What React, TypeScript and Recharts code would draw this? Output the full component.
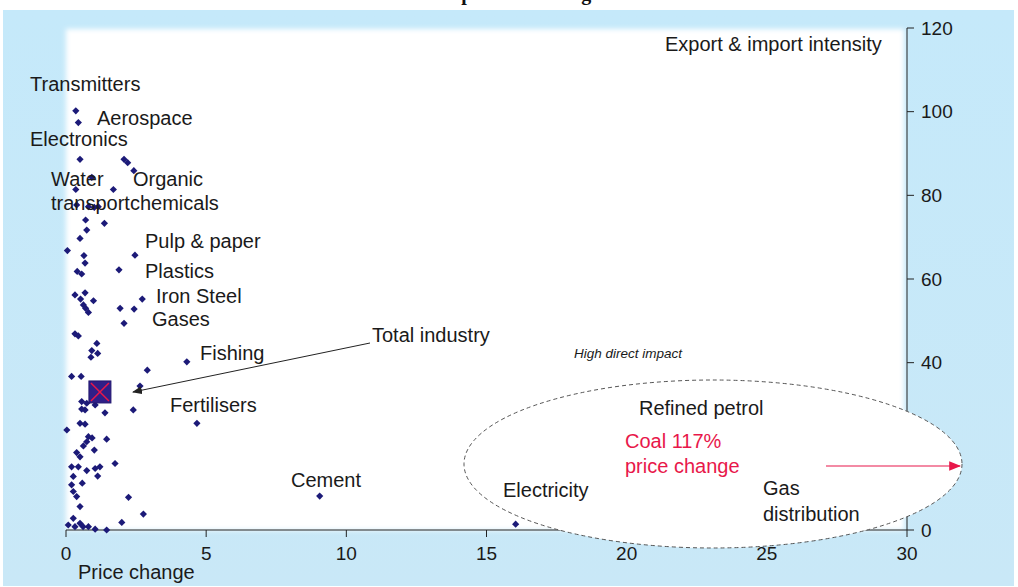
import { Scatter, ScatterChart, XAxis, YAxis } from "recharts";

// sectors: price change (%) vs export & import intensity (%)
const priceChange = [
  0.35, 0.44, 0.5, 2.07, 2.2, 2.42, 0.92, 0.35, 1.69, 0.38, 0.8, 1.01, 1.15, 0.7, 1.37, 0.74, 0.5,
  0.05, 0.64, 0.68, 0.4, 0.56, 2.46, 1.89, 0.32, 0.68, 0.52, 0.98, 0.62, 0.7, 0.8, 2.72, 1.93, 2.43,
  2.07, 0.32, 0.44, 1.1, 0.92, 1.13, 0.89, 2.9, 0.2, 0.54, 2.64, 0.56, 0.68, 1.04, 1.39, 2.4, 0.03,
  0.5, 0.68, 0.8, 0.93, 1.45, 0.74, 0.62, 1.01, 0.38, 0.5, 1.75, 0.2, 0.44, 0.74, 1.04, 1.21, 1.13,
  0.26, 0.58, 0.2, 0.26, 0.38, 2.23, 0.5, 2.76, 1.99, 0.08, 0.26, 0.32, 0.5, 0.61, 0.8, 1.04, 1.45,
  4.31, 4.67, 9.05, 16.04, 0.74, 0.56,
];
const tradeIntensity = [
  100.2, 97.4, 88.6, 88.6, 87.8, 85.9, 84.3, 81.4, 81.4, 77.7, 77.3, 77.1, 77.3, 74.1, 73.3, 71.7,
  69.7, 66.8, 65.6, 63.8, 61.8, 61.2, 65.7, 62.2, 56.2, 56.7, 55.2, 54.8, 53.8, 53.0, 52.0, 55.2,
  53.0, 52.8, 49.4, 46.9, 46.4, 44.6, 42.9, 42.2, 41.3, 38.2, 36.7, 36.7, 34.4, 30.7, 28.7, 29.9,
  28.0, 28.7, 23.9, 25.5, 25.3, 22.3, 22.0, 21.7, 21.1, 20.1, 19.1, 18.5, 17.5, 15.9, 15.1, 15.1,
  14.2, 14.7, 15.1, 12.9, 12.8, 11.2, 10.8, 9.2, 8.0, 7.8, 5.6, 3.8, 1.8, 1.2, 2.8, 0.8, 1.6, 0.8,
  0.8, 0.2, 0.0, 40.2, 25.5, 8.1, 1.4, 30.3, 28.9,
];
const totalIndustryX = [1.21];
const totalIndustryY = [33.0];

const xTicks = [0, 5, 10, 15, 20, 25, 30];
const yTicks = [0, 20, 40, 60, 80, 100, 120];

const sectors = priceChange.map((x, i) => ({ x, y: tradeIntensity[i] }));
const total = totalIndustryX.map((x, i) => ({ x, y: totalIndustryY[i] }));

const FONT = "'Liberation Sans', Arial, sans-serif";
const NAVY = "#1c1a78";
const RED = "#e8174a";

const Diamond = (props: any) => {
  const { cx, cy } = props;
  const r = 3.6;
  return (
    <polygon
      points={`${cx},${cy - r} ${cx + r},${cy} ${cx},${cy + r} ${cx - r},${cy}`}
      fill={NAVY}
    />
  );
};

const TotalMarker = (props: any) => {
  const { cx, cy } = props;
  const h = 11;
  return (
    <g>
      <rect x={cx - h} y={cy - h} width={h * 2} height={h * 2} fill="#2f1f88" stroke="#231870" />
      <line x1={cx - h + 2} y1={cy - h + 2} x2={cx + h - 2} y2={cy + h - 2} stroke={RED} strokeWidth={1.5} />
      <line x1={cx + h - 2} y1={cy - h + 2} x2={cx - h + 2} y2={cy + h - 2} stroke={RED} strokeWidth={1.5} />
    </g>
  );
};

const labels: [string, number, number][] = [
  ["Transmitters", 30, 91],
  ["Aerospace", 97, 125],
  ["Electronics", 30, 146],
  ["Water", 51, 186],
  ["Organic", 133, 186],
  ["transportchemicals", 51, 210],
  ["Pulp & paper", 145, 248],
  ["Plastics", 145, 278],
  ["Iron Steel", 156, 303],
  ["Gases", 152, 326],
  ["Fishing", 200, 360],
  ["Total industry", 372, 342],
  ["Fertilisers", 170, 412],
  ["Cement", 291, 487],
  ["Electricity", 503, 497],
  ["Refined petrol", 639, 415],
  ["Gas", 763, 495],
  ["distribution", 763, 521],
  ["Export & import intensity", 665, 51],
  ["Price change", 78, 579],
];

export default function App() {
  return (
    <div style={{ position: "fixed", top: 0, left: 0, width: 1018, height: 587, background: "#fff" }}>
      <svg width={1018} height={587} style={{ position: "absolute", top: 0, left: 0 }}>
        <defs>
          <linearGradient id="bg" x1="0" y1="0" x2="0" y2="1">
            <stop offset="0" stopColor="#c5e9fa" />
            <stop offset="1" stopColor="#c9e8f7" />
          </linearGradient>
          <filter id="soft" x="-5%" y="-5%" width="110%" height="110%">
            <feGaussianBlur stdDeviation="2.5" />
          </filter>
        </defs>
        <text x={490} y={0} textAnchor="middle" fontFamily="'Liberation Serif', serif" fontWeight="bold" fontSize={20} fill="#111">
          Sector impact and change
        </text>
        <rect x={3} y={10} width={1011} height={576} fill="url(#bg)" />
        <rect x={66} y={29} width={838} height={501} fill="#ffffff" filter="url(#soft)" />
      </svg>
      <div style={{ position: "absolute", top: 0, left: 0 }}>
        <ScatterChart width={1018} height={587} margin={{ top: 28, left: 66, right: 51, bottom: 27 }}>
          <XAxis
            type="number"
            dataKey="x"
            domain={[0, 30]}
            ticks={xTicks}
            height={30}
            axisLine={{ stroke: "#222" }}
            tickLine={{ stroke: "#222" }}
            tickSize={7}
            tickMargin={10}
            tick={{ fontSize: 19, fill: "#1a1a1a", fontFamily: FONT }}
          />
          <YAxis
            type="number"
            dataKey="y"
            orientation="right"
            domain={[0, 120]}
            ticks={yTicks}
            width={60}
            axisLine={{ stroke: "#222" }}
            tickLine={{ stroke: "#222" }}
            tickSize={7}
            tickMargin={7}
            tick={{ fontSize: 19, fill: "#1a1a1a", fontFamily: FONT, textAnchor: "start" }}
          />
          <Scatter data={sectors} shape={Diamond} isAnimationActive={false} />
          <Scatter data={total} shape={TotalMarker} isAnimationActive={false} />
        </ScatterChart>
      </div>
      <svg width={1018} height={587} style={{ position: "absolute", top: 0, left: 0, pointerEvents: "none" }}>
        <defs>
          <marker id="ah" markerWidth="10" markerHeight="8" refX="9" refY="4" orient="auto">
            <path d="M0,0 L10,4 L0,8 Z" fill="#222" />
          </marker>
          <marker id="ahr" markerWidth="10" markerHeight="8" refX="9" refY="4" orient="auto">
            <path d="M0,0 L10,4 L0,8 Z" fill={RED} />
          </marker>
        </defs>
        <ellipse cx={713} cy={464} rx={249} ry={84} fill="#fff" stroke="#555" strokeWidth={1} strokeDasharray="4 3" />
        <line x1={370} y1={343} x2={133} y2={392} stroke="#222" strokeWidth={1} markerEnd="url(#ah)" />
        <line x1={826} y1={466} x2={960} y2={466} stroke={RED} strokeWidth={1.2} markerEnd="url(#ahr)" />
        {labels.map(([t, x, y]) => (
          <text key={t} x={x} y={y} fontFamily={FONT} fontSize={20} fill="#1a1a1a">
            {t}
          </text>
        ))}
        <text x={574} y={358} fontFamily={FONT} fontSize={13.5} fontStyle="italic" fill="#1a1a1a">
          High direct impact
        </text>
        <text x={625} y={448} fontFamily={FONT} fontSize={20} fill={RED}>
          Coal 117%
        </text>
        <text x={625} y={473} fontFamily={FONT} fontSize={20} fill={RED}>
          price change
        </text>
      </svg>
    </div>
  );
}
